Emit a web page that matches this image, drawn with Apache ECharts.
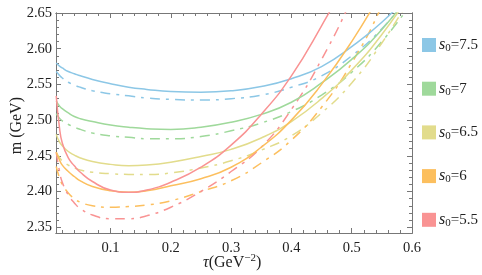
<!DOCTYPE html>
<html><head><meta charset="utf-8">
<script src="https://cdn.jsdelivr.net/npm/echarts@6/dist/echarts.min.js"></script>
<style>html,body{margin:0;padding:0;background:#fff}#c{width:482px;height:275px}</style>
</head><body><div id="c"></div>
<script>
const tau = [0.01,0.015,0.02,0.03,0.04,0.05,0.07,0.1,0.13,0.16,0.2,0.25,0.3,0.35,0.4,0.45,0.5,0.55,0.6];
const s75  = [2.580,2.576,2.573,2.568,2.565,2.562,2.557,2.551,2.546,2.543,2.540,2.539,2.541,2.547,2.558,2.575,2.603,2.637,2.680];
const s75d = [2.568,2.563,2.559,2.553,2.549,2.546,2.541,2.537,2.534,2.531,2.529,2.528,2.530,2.535,2.546,2.562,2.590,2.628,2.678];
const s7   = [2.527,2.520,2.516,2.510,2.505,2.502,2.498,2.493,2.490,2.488,2.487,2.490,2.497,2.508,2.525,2.552,2.585,2.627,2.680];
const s7d  = [2.509,2.503,2.499,2.494,2.490,2.487,2.482,2.478,2.476,2.474,2.474,2.477,2.485,2.496,2.512,2.535,2.567,2.610,2.665];
const s65  = [2.480,2.470,2.464,2.456,2.451,2.447,2.442,2.438,2.436,2.437,2.441,2.449,2.459,2.475,2.498,2.530,2.570,2.620,2.680];
const s65d = [2.455,2.448,2.443,2.437,2.433,2.430,2.427,2.425,2.424,2.424,2.426,2.433,2.443,2.458,2.478,2.510,2.552,2.608,2.675];
const s6   = [2.455,2.445,2.437,2.428,2.421,2.415,2.407,2.401,2.399,2.401,2.408,2.418,2.434,2.462,2.500,2.550,2.610,2.680,2.760];
const s6d  = [2.435,2.420,2.410,2.398,2.390,2.385,2.380,2.378,2.379,2.381,2.387,2.400,2.415,2.440,2.472,2.518,2.580,2.660,2.760];
const s55  = [2.534,2.492,2.468,2.447,2.436,2.427,2.414,2.402,2.399,2.402,2.413,2.434,2.465,2.508,2.562,2.632,2.710,2.800,2.900];
const s55d = [2.455,2.430,2.413,2.395,2.384,2.376,2.367,2.362,2.362,2.366,2.378,2.400,2.428,2.462,2.515,2.585,2.670,2.770,2.880];

const s0Labels = ['7.5','7','6.5','6','5.5'];
const xMajor = [0.1,0.2,0.3,0.4,0.5,0.6];
const xMinor = [0.02,0.04,0.06,0.08,0.12,0.14,0.16,0.18,0.22,0.24,0.26,0.28,0.32,0.34,0.36,0.38,0.42,0.44,0.46,0.48,0.52,0.54,0.56,0.58];
const yMajor = [2.35,2.40,2.45,2.50,2.55,2.60,2.65];
const yMinor = [2.36,2.37,2.38,2.39,2.41,2.42,2.43,2.44,2.46,2.47,2.48,2.49,2.51,2.52,2.53,2.54,2.56,2.57,2.58,2.59,2.61,2.62,2.63,2.64];

const colors = ['#8cc7e6','#9fd99b','#e2dc8c','#fcbf5e','#f99393'];
const solids = [s75,s7,s65,s6,s55];
const dashes = [s75d,s7d,s65d,s6d,s55d];

const XMIN=0.0096, XMAX=0.6, YMIN=2.3419, YMAX=2.65;
const frame='#777';
const serif="'Liberation Serif','DejaVu Serif',serif";

function mkX(pos, ticks, len, label){
  return {type:'value', min:XMIN, max:XMAX, position:pos,
    axisLine:{show:true,onZero:false,lineStyle:{color:frame,width:1}},
    splitLine:{show:false},
    axisTick:{show:true,inside:true,length:len,customValues:ticks,lineStyle:{color:frame}},
    axisLabel:{show:label,customValues:label?ticks:[],color:'#222',fontFamily:serif,fontSize:14.5,margin:8,
      formatter:v=>v.toFixed(1)}};
}
function mkY(pos, ticks, len, label){
  return {type:'value', min:YMIN, max:YMAX, position:pos,
    axisLine:{show:true,onZero:false,lineStyle:{color:frame,width:1}},
    splitLine:{show:false},
    axisTick:{show:true,inside:true,length:len,customValues:ticks,lineStyle:{color:frame}},
    axisLabel:{show:label,customValues:label?ticks:[],color:'#222',fontFamily:serif,fontSize:14.5,margin:4,
      formatter:v=>v.toFixed(2)}};
}

const series=[];
for(let i=0;i<5;i++){
  series.push({name:'s'+i,type:'line',data:tau.map((t,k)=>[t,solids[i][k]]),smooth:0.5,
    showSymbol:false,symbol:'none',clip:true,lineStyle:{color:colors[i],width:1.5},itemStyle:{color:colors[i]},z:3});
  series.push({type:'line',data:tau.map((t,k)=>[t,dashes[i][k]]),smooth:0.5,
    showSymbol:false,symbol:'none',clip:true,lineStyle:{color:colors[i],width:1.5,type:[10,6,3,6]},z:2});
}

const chart=echarts.init(document.getElementById('c'),null,{renderer:'canvas'});
chart.setOption({
  animation:false,
  grid:{left:56,top:13,width:356,height:220},
  xAxis:[mkX('bottom',xMajor,5,true),mkX('bottom',xMinor,3,false),mkX('top',xMajor,5,false),mkX('top',xMinor,3,false)],
  yAxis:[mkY('left',yMajor,5,true),mkY('left',yMinor,3,false),mkY('right',yMajor,5,false),mkY('right',yMinor,3,false)],
  legend:{orient:'vertical',left:417,top:32,itemWidth:14,itemHeight:14,itemGap:26.7,icon:'rect',
    data:['s0','s1','s2','s3','s4'],
    formatter:n=>'{i|s}{sub|0}{t|='+s0Labels[+n.slice(1)]+'}',
    textStyle:{fontFamily:serif,fontSize:15,color:'#222',padding:[0,0,0,-2],
      rich:{i:{fontFamily:serif,fontStyle:'italic',fontSize:16,lineHeight:18},
            sub:{fontFamily:serif,fontSize:11,verticalAlign:'bottom',lineHeight:18,padding:[6,0,0,0]},
            t:{fontFamily:serif,fontSize:15,lineHeight:18}}}},
  graphic:[
    {type:'text',left:9,top:97,rotation:Math.PI/2,style:{text:'m (GeV)',font:"16px 'Liberation Serif'",fill:'#222'}},
    {type:'text',left:203,top:253,style:{rich:{a:{font:"16px 'Liberation Serif'",fill:'#222'},ai:{font:"italic 16px 'Liberation Serif'",fill:'#222'},sup:{font:"11px 'Liberation Serif'",fill:'#222',verticalAlign:'top',padding:[0,0,8,0]}},
      text:'{ai|τ}{a|(GeV}{sup|−2}{a|)}'}}
  ],
  series:series
});
</script></body></html>
